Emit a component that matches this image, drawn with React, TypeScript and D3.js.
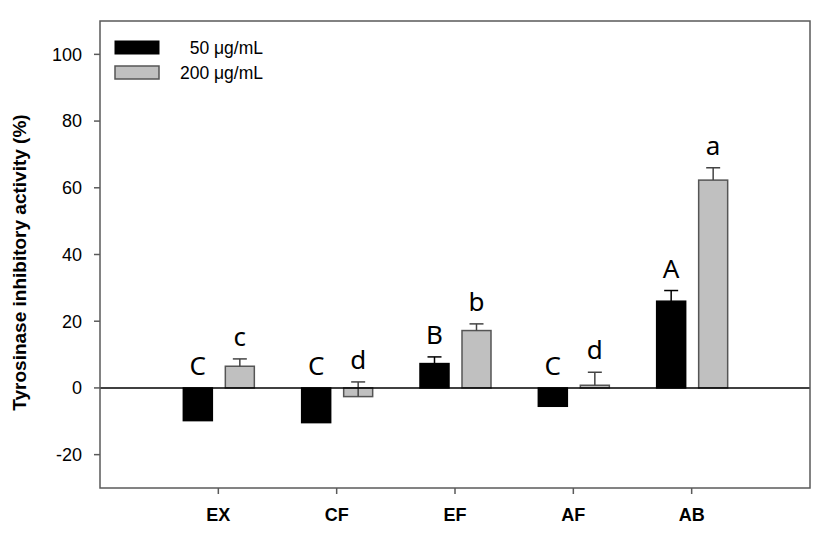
import React from "react";
import * as d3 from "d3";

const categories = ["EX", "CF", "EF", "AF", "AB"];
const values50 = [-9.8, -10.4, 7.3, -5.5, 26.0];
const errors50 = [1.2, 1.2, 2.0, 1.2, 3.2];
const values200 = [6.5, -2.6, 17.2, 0.8, 62.3];
const errors200 = [2.2, 4.4, 2.0, 3.9, 3.7];
const letters50 = ["C", "C", "B", "C", "A"];
const letters200 = ["c", "d", "b", "d", "a"];
const yTicks = [-20, 0, 20, 40, 60, 80, 100];
const seriesNames = ["50 \u03bcg/mL", "200 \u03bcg/mL"];

const W = 827;
const H = 551;
const left = 100;
const right = 810;
const top = 21;
const bottom = 488;

export default function App() {
  const x = d3.scaleLinear().domain([0, categories.length + 1]).range([left, right]);
  const y = d3.scaleLinear().domain([-30, 110]).range([bottom, top]);
  const barW = 29;
  const frameColor = "#5a5a5a";
  const font = "'Liberation Sans', Arial, sans-serif";
  const letterFont = "'Noto Sans', 'Open Sans', sans-serif";

  const series = [
    { vals: values50, errs: errors50, letters: letters50, off: -35, fill: "#000000", stroke: "#000000" },
    { vals: values200, errs: errors200, letters: letters200, off: 7, fill: "#c0c0c0", stroke: "#555555" },
  ];

  return (
    <svg width={W} height={H} style={{ position: "absolute", left: 0, top: 0, background: "#fff" }}>
      {/* bars */}
      {series.map((s, si) =>
        categories.map((c, i) => {
          const cx = x(i + 1);
          const v = s.vals[i];
          const x0 = cx + s.off;
          const y0 = y(Math.max(0, v));
          const h = Math.abs(y(v) - y(0));
          return (
            <rect key={`b${si}-${i}`} x={x0} y={y0} width={barW} height={h}
              fill={s.fill} stroke={s.stroke} strokeWidth={1.5} />
          );
        })
      )}
      {/* error bars */}
      {series.map((s, si) =>
        categories.map((c, i) => {
          const cx = x(i + 1) + s.off + barW / 2;
          const v = s.vals[i];
          const e = s.errs[i];
          return (
            <g key={`e${si}-${i}`} stroke={si === 0 ? "#000" : "#444"} strokeWidth={1.5}>
              <line x1={cx} x2={cx} y1={y(v)} y2={y(v + e)} />
              <line x1={cx - 7} x2={cx + 7} y1={y(v + e)} y2={y(v + e)} />
            </g>
          );
        })
      )}
      {/* zero line */}
      <line x1={left} x2={right} y1={y(0)} y2={y(0)} stroke="#000" strokeWidth={1.5} />
      {/* significance letters */}
      {series.map((s, si) =>
        categories.map((c, i) => {
          const cx = x(i + 1) + s.off + barW / 2;
          const topVal = Math.max(0, s.vals[i] + s.errs[i]);
          return (
            <text key={`l${si}-${i}`} x={cx} y={y(topVal) - 13} textAnchor="middle"
              fontFamily={letterFont} fontSize={26} fill="#000">
              {s.letters[i]}
            </text>
          );
        })
      )}
      {/* frame */}
      <rect x={left} y={top} width={right - left} height={bottom - top} fill="none" stroke={frameColor} strokeWidth={1.5} />
      {/* y ticks */}
      {yTicks.map((t) => (
        <g key={`yt${t}`}>
          <line x1={left - 6} x2={left} y1={y(t)} y2={y(t)} stroke={frameColor} strokeWidth={1.5} />
          <text x={left - 18} y={y(t)} dy="0.35em" textAnchor="end" fontFamily={font} fontSize={18} fill="#000">
            {t}
          </text>
        </g>
      ))}
      {/* x ticks */}
      {categories.map((c, i) => (
        <g key={`xt${c}`}>
          <line x1={x(i + 1)} x2={x(i + 1)} y1={bottom} y2={bottom + 6} stroke={frameColor} strokeWidth={1.5} />
          <text x={x(i + 1)} y={521} textAnchor="middle" fontFamily={font} fontSize={18} fontWeight="bold" fill="#000">
            {c}
          </text>
        </g>
      ))}
      {/* y title */}
      <text transform={`translate(26,${(top + bottom) / 2 + 8}) rotate(-90)`} textAnchor="middle"
        fontFamily={font} fontSize={19} fontWeight="bold" fill="#000">
        Tyrosinase inhibitory activity (%)
      </text>
      {/* legend */}
      <rect x={115} y={41} width={44} height={13} fill="#000" stroke="#000" strokeWidth={1} />
      <rect x={115} y={66} width={44} height={13} fill="#c0c0c0" stroke="#555" strokeWidth={1.5} />
      <text x={263} y={47.5} dy="0.35em" textAnchor="end" fontFamily={font} fontSize={17.5} fill="#000">
        {seriesNames[0]}
      </text>
      <text x={263} y={72.5} dy="0.35em" textAnchor="end" fontFamily={font} fontSize={17.5} fill="#000">
        {seriesNames[1]}
      </text>
    </svg>
  );
}
